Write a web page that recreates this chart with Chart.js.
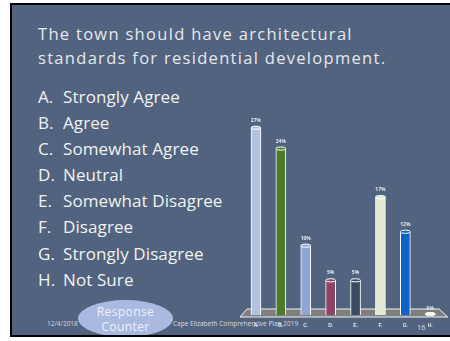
<!DOCTYPE html>
<html>
<head>
<meta charset="utf-8">
<script src="https://cdn.jsdelivr.net/npm/chart.js@4"></script>
<style>
  html,body{margin:0;padding:0;background:#fff;}
  body{width:450px;height:341px;position:relative;overflow:hidden;font-family:"Open Sans",sans-serif;}
  .slide{position:absolute;left:10px;top:3px;width:440px;height:334px;background:#000;}
  .inner{position:absolute;left:2px;top:2px;right:0;bottom:2px;background:#51637f;overflow:hidden;}
  .title{position:absolute;left:26px;top:17px;color:#e6e8ec;font-size:16.5px;line-height:24px;letter-spacing:1.3px;white-space:nowrap;}
  .list{position:absolute;left:26px;top:79px;color:#f2f2f2;font-size:17px;line-height:26.1px;letter-spacing:0.1px;margin:0;padding:0;list-style:none;white-space:nowrap;}
  .list span{display:inline-block;width:25px;}
  .oval{position:absolute;left:66px;top:295px;width:95px;height:37px;border-radius:50%;background:#a9b9e0;color:#eef1fa;font-size:12px;line-height:15px;letter-spacing:0.4px;text-align:center;display:flex;align-items:center;justify-content:center;}
  .foot{position:absolute;color:#d8dce4;font-size:6.5px;line-height:8px;}
  #wrap{position:absolute;left:236px;top:100px;width:214px;height:239px;}
</style>
</head>
<body>
<div class="slide"><div class="inner">
  <div class="title">The town should have architectural<br>standards for residential development.</div>
  <ul class="list">
    <li><span>A.</span>Strongly Agree</li>
    <li><span>B.</span>Agree</li>
    <li><span>C.</span>Somewhat Agree</li>
    <li><span>D.</span>Neutral</li>
    <li><span>E.</span>Somewhat Disagree</li>
    <li><span>F.</span>Disagree</li>
    <li><span>G.</span>Strongly Disagree</li>
    <li><span>H.</span>Not Sure</li>
  </ul>
  <div class="oval">Response<br>Counter</div>
  <div class="foot" style="left:35px;top:315px;">12/4/2018</div>
  <div class="foot" style="left:161px;top:315px;">Cape Elizabeth Comprehensive Plan 2019</div>
  <div class="foot" style="left:405px;top:318px;font-size:7.5px;">16</div>
</div></div>
<div id="wrap"><canvas id="myChart"></canvas></div>
<script>
const categories = ["A.", "B.", "C.", "D.", "E.", "F.", "G.", "H."];
const percents = [27, 24, 10, 5, 5, 17, 12, 0];
const barColors = ["#b3c2e3", "#4f7a2d", "#8ea5d5", "#8e4467", "#3b4963", "#e0e9d5", "#0b62c7", "#ffffff"];
const yTicks = [0, 31];

// grey floor under the bars
const floorPlugin = {
  id: 'floor',
  beforeDatasetsDraw(chart) {
    const a = chart.chartArea, c = chart.ctx;
    c.save();
    c.beginPath();
    c.moveTo(a.left + 3.5, a.bottom - 6);
    c.lineTo(a.right - 3.5, a.bottom - 6);
    c.lineTo(a.right + 5, a.bottom + 2);
    c.lineTo(a.left - 3.5, a.bottom + 2);
    c.closePath();
    c.fillStyle = '#7f7f7f';
    c.fill();
    c.strokeStyle = '#f2f2f2';
    c.lineWidth = 1;
    c.stroke();
    c.restore();
  }
};

// cylinder caps and value labels
const capPlugin = {
  id: 'caps',
  afterDatasetsDraw(chart) {
    const c = chart.ctx;
    const meta = chart.getDatasetMeta(0);
    c.save();
    meta.data.forEach((bar, i) => {
      const w = bar.width / 2;
      c.beginPath();
      c.ellipse(bar.x, bar.y, w, 1.6, 0, 0, Math.PI * 2);
      c.fillStyle = barColors[i];
      c.fill();
      c.strokeStyle = '#ffffff';
      c.lineWidth = 1;
      c.stroke();
      c.fillStyle = '#e4e8f0';
      c.font = 'bold 5px "Open Sans"';
      c.textAlign = 'center';
      c.fillText(percents[i] + '%', bar.x, bar.y - (percents[i] ? 6 : 4));
    });
    c.restore();
  }
};

const ctx = document.getElementById('myChart').getContext('2d');
new Chart(ctx, {
  type: 'bar',
  data: {
    labels: categories,
    datasets: [{
      data: percents,
      backgroundColor: barColors,
      borderColor: '#ffffff',
      borderWidth: 1,
      barThickness: 10,
      minBarLength: 1
    }]
  },
  options: {
    responsive: true,
    maintainAspectRatio: false,
    animation: false,
    layout: { padding: { left: 7.5, right: 7.3, top: 0, bottom: 2 } },
    plugins: { legend: { display: false }, tooltip: { enabled: false } },
    scales: {
      x: {
        grid: { display: false, drawTicks: false },
        border: { display: false },
        ticks: { color: '#e4e8f0', font: { size: 5, weight: 'bold' }, padding: 8 }
      },
      y: {
        display: false,
        min: yTicks[0],
        max: yTicks[1]
      }
    }
  },
  plugins: [floorPlugin, capPlugin]
});
</script>
</body>
</html>
